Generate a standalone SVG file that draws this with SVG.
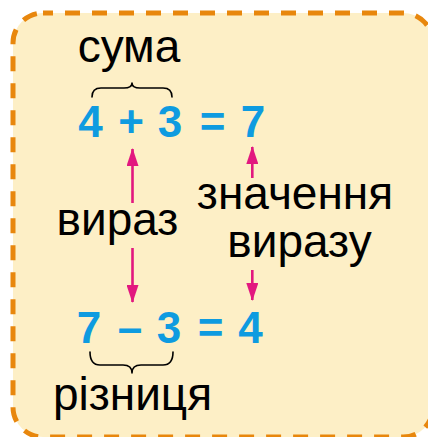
<svg xmlns="http://www.w3.org/2000/svg" width="428" height="437" viewBox="0 0 428 437">
<style>
.lbl{font-family:"Liberation Sans",Arial,sans-serif;font-size:46px;fill:#000;text-anchor:middle}
.num{font-family:"Liberation Sans",Arial,sans-serif;font-size:44px;font-weight:bold;fill:#0e9be0;text-anchor:middle}
.brace{fill:none;stroke:#000;stroke-width:1.6;stroke-linecap:round;stroke-linejoin:round}
.arr{stroke:#e2187f;stroke-width:2.6;fill:none}
</style>
<defs>
<marker id="ah" viewBox="0 0 18 12" refX="17" refY="6" markerWidth="18" markerHeight="12" markerUnits="userSpaceOnUse" orient="auto">
<path d="M0,0 L18,6 L0,12 Z" fill="#e2187f"/>
</marker>
</defs>
<rect width="428" height="437" fill="#fff"/>
<rect id="frame" x="13" y="13" width="420" height="424" rx="30" fill="#fdefc6" stroke="#e8870d" stroke-width="5" stroke-dasharray="15 12" stroke-dashoffset="5"/>
<g id="sum-label"><text class="lbl" x="129" y="62">сума</text>
<path class="brace" d="M92,97 Q92,88 101,88 L124,88 Q132,88 132,83 Q132,88 140,88 L163,88 Q172,88 172,97"/></g>
<g id="expr1">
<text class="num" x="90.5" y="137">4</text>
<text class="num" x="131" y="137">+</text>
<text class="num" x="170" y="137">3</text>
<text class="num" x="212.5" y="137">=</text>
<text class="num" x="253" y="137">7</text>
</g>
<g id="expr-label"><text class="lbl" x="117.5" y="235">вираз</text></g>
<g id="value-label"><text class="lbl" x="295" y="209">значення</text>
<text class="lbl" x="299.5" y="257">виразу</text></g>
<g id="expr2">
<text class="num" x="89" y="343">7</text>
<text class="num" x="130" y="343">–</text>
<text class="num" x="169" y="343">3</text>
<text class="num" x="210.5" y="343">=</text>
<text class="num" x="250.5" y="343">4</text>
</g>
<g id="diff-label"><path class="brace" d="M90,352 Q90,365 100,365 L123,365 Q132,365 132,373 Q132,365 141,365 L163,365 Q173,365 173,352"/>
<text class="lbl" x="132.5" y="410">різниця</text></g>
<g id="connectors">
<line class="arr" x1="132.5" y1="203" x2="132.5" y2="149" marker-end="url(#ah)"/>
<line class="arr" x1="132.5" y1="248" x2="132.5" y2="302" marker-end="url(#ah)"/>
<line class="arr" x1="252.3" y1="178" x2="252.3" y2="147" marker-end="url(#ah)"/>
<line class="arr" x1="252.3" y1="270" x2="252.3" y2="300" marker-end="url(#ah)"/>
</g>
</svg>
